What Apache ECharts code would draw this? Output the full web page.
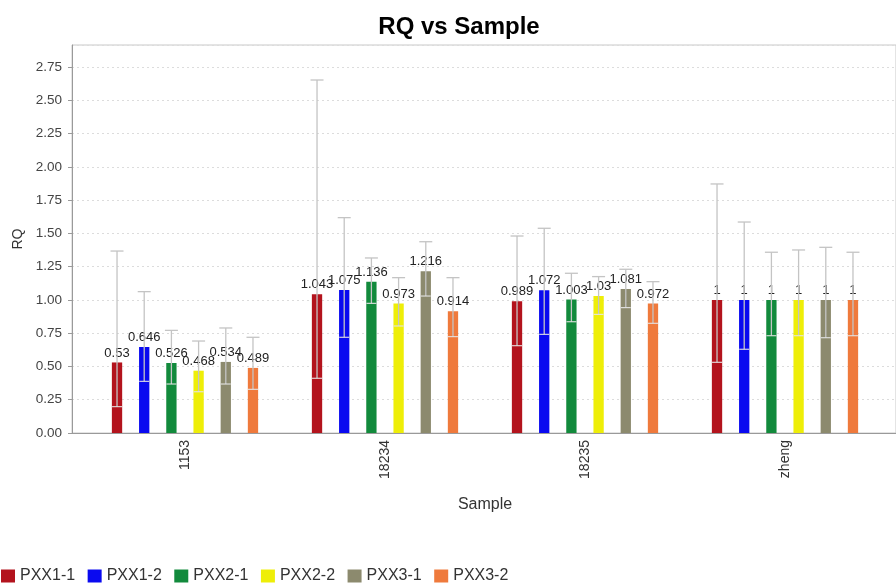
<!DOCTYPE html>
<html>
<head>
<meta charset="utf-8">
<script src="https://cdn.jsdelivr.net/npm/echarts@6/dist/echarts.min.js"></script>
<style>
html,body{margin:0;padding:0;background:#fff;}
#chart{width:896px;height:585px;}
</style>
</head>
<body>
<div id="chart"></div>
<script>
const categories = ['1153', '18234', '18235', 'zheng'];
const seriesNames = ['PXX1-1', 'PXX1-2', 'PXX2-1', 'PXX2-2', 'PXX3-1', 'PXX3-2'];
const colors = ['#B3131D', '#0A0AF0', '#128A3C', '#EEEE08', '#8C8A6E', '#EF7A3C'];

const rqPXX1_1 = [0.53, 1.043, 0.989, 1];
const rqPXX1_2 = [0.646, 1.075, 1.072, 1];
const rqPXX2_1 = [0.526, 1.136, 1.003, 1];
const rqPXX2_2 = [0.468, 0.973, 1.03, 1];
const rqPXX3_1 = [0.534, 1.216, 1.081, 1];
const rqPXX3_2 = [0.489, 0.914, 0.972, 1];

const upPXX1_1 = [1.367, 2.652, 1.48, 1.871];
const upPXX1_2 = [1.062, 1.618, 1.538, 1.585];
const upPXX2_1 = [0.771, 1.315, 1.2, 1.358];
const upPXX2_2 = [0.691, 1.167, 1.175, 1.375];
const upPXX3_1 = [0.789, 1.437, 1.23, 1.395];
const upPXX3_2 = [0.719, 1.167, 1.137, 1.358];

const loPXX1_1 = [0.198, 0.411, 0.656, 0.531];
const loPXX1_2 = [0.388, 0.719, 0.741, 0.629];
const loPXX2_1 = [0.368, 0.974, 0.836, 0.731];
const loPXX2_2 = [0.31, 0.804, 0.891, 0.731];
const loPXX3_1 = [0.368, 1.029, 0.942, 0.716];
const loPXX3_2 = [0.328, 0.724, 0.824, 0.731];

const yTicks = [0, 0.25, 0.5, 0.75, 1, 1.25, 1.5, 1.75, 2, 2.25, 2.5, 2.75];

const rqValues = [rqPXX1_1, rqPXX1_2, rqPXX2_1, rqPXX2_2, rqPXX3_1, rqPXX3_2];
const upValues = [upPXX1_1, upPXX1_2, upPXX2_1, upPXX2_2, upPXX3_1, upPXX3_2];
const loValues = [loPXX1_1, loPXX1_2, loPXX2_1, loPXX2_2, loPXX3_1, loPXX3_2];

const FONT = "'Liberation Sans', Arial, sans-serif";
const BAR_W = 10.3;
const GAP_RATIO = 1.64;
const PITCH = BAR_W * (1 + GAP_RATIO);
const Y_MAX = 2.915;
const WHISKER = '#c4c4c4';

const chart = echarts.init(document.getElementById('chart'), null, {renderer: 'canvas'});

const series = [];
seriesNames.forEach((name, s) => {
  series.push({
    name: name,
    type: 'bar',
    xAxisIndex: 1,
    yAxisIndex: 1,
    barWidth: BAR_W,
    barGap: (GAP_RATIO * 100) + '%',
    itemStyle: {color: colors[s]},
    label: {
      show: true,
      position: 'top',
      distance: 3,
      fontFamily: FONT,
      fontSize: 13,
      color: '#222'
    },
    data: rqValues[s]
  });
});
seriesNames.forEach((name, s) => {
  const offset = (s - (seriesNames.length - 1) / 2) * PITCH;
  series.push({
    type: 'custom',
    xAxisIndex: 1,
    yAxisIndex: 1,
    silent: true,
    z: 3,
    encode: {x: 0, y: [1, 2]},
    data: categories.map((c, i) => [i, loValues[s][i], upValues[s][i]]),
    renderItem: function (params, api) {
      const cx = api.coord([api.value(0), 0])[0] + offset;
      const yLo = api.coord([api.value(0), api.value(1)])[1];
      const yHi = api.coord([api.value(0), api.value(2)])[1];
      const st = {stroke: WHISKER, lineWidth: 1.3};
      return {
        type: 'group',
        children: [
          {type: 'line', shape: {x1: cx, y1: yLo, x2: cx, y2: yHi}, style: st},
          {type: 'line', shape: {x1: cx - 6.5, y1: yHi, x2: cx + 6.5, y2: yHi}, style: st},
          {type: 'line', shape: {x1: cx - 5, y1: yLo, x2: cx + 5, y2: yLo}, style: {stroke: 'rgba(230,230,230,0.9)', lineWidth: 1.2}}
        ]
      };
    }
  });
});

const option = {
  backgroundColor: '#fff',
  animation: false,
  title: {
    text: 'RQ vs Sample',
    left: 454,
    top: 10,
    textAlign: 'center',
    textStyle: {fontFamily: FONT, fontSize: 24, fontWeight: 'bold', color: '#000'}
  },
  legend: {
    data: seriesNames,
    left: 1,
    top: 568,
    padding: 0,
    icon: 'rect',
    itemWidth: 14,
    itemHeight: 13,
    itemGap: 12.5,
    textStyle: {fontFamily: FONT, fontSize: 16, color: '#333'}
  },
  grid: [
    {left: 72, top: 45, right: -4, bottom: 152, show: true, borderColor: '#c8c8c8', borderWidth: 1},
    {left: 85, top: 45, width: 800, bottom: 152}
  ],
  xAxis: [
    {
      type: 'value', gridIndex: 0, min: 0, max: 1,
      axisLine: {show: true, onZero: false, lineStyle: {color: '#9a9a9a'}},
      axisTick: {show: false}, axisLabel: {show: false}, splitLine: {show: false}
    },
    {
      type: 'category', gridIndex: 1, data: categories,
      axisLine: {show: false}, axisTick: {show: false},
      axisLabel: {rotate: 90, margin: 7, fontFamily: FONT, fontSize: 14, color: '#333'},
      name: 'Sample', nameLocation: 'middle', nameGap: 64,
      nameTextStyle: {fontFamily: FONT, fontSize: 16, color: '#333'}
    }
  ],
  yAxis: [
    {
      type: 'value', gridIndex: 0, min: 0, max: Y_MAX, interval: 0.25,
      axisLine: {show: true, lineStyle: {color: '#9a9a9a'}},
      axisTick: {show: true, length: 4, lineStyle: {color: '#9a9a9a'}},
      axisLabel: {
        showMaxLabel: false, margin: 10, fontFamily: FONT, fontSize: 13.5, color: '#444',
        formatter: v => (yTicks.indexOf(v) >= 0 ? v.toFixed(2) : '')
      },
      splitLine: {show: true, lineStyle: {color: '#dcdcdc', type: [2, 3], width: 1}},
      name: 'RQ', nameLocation: 'middle', nameGap: 47,
      nameTextStyle: {fontFamily: FONT, fontSize: 14, color: '#333'}
    },
    {
      type: 'value', gridIndex: 1, min: 0, max: Y_MAX, show: false,
      splitLine: {show: false}
    }
  ],
  series: series
};

chart.setOption(option);
</script>
</body>
</html>
